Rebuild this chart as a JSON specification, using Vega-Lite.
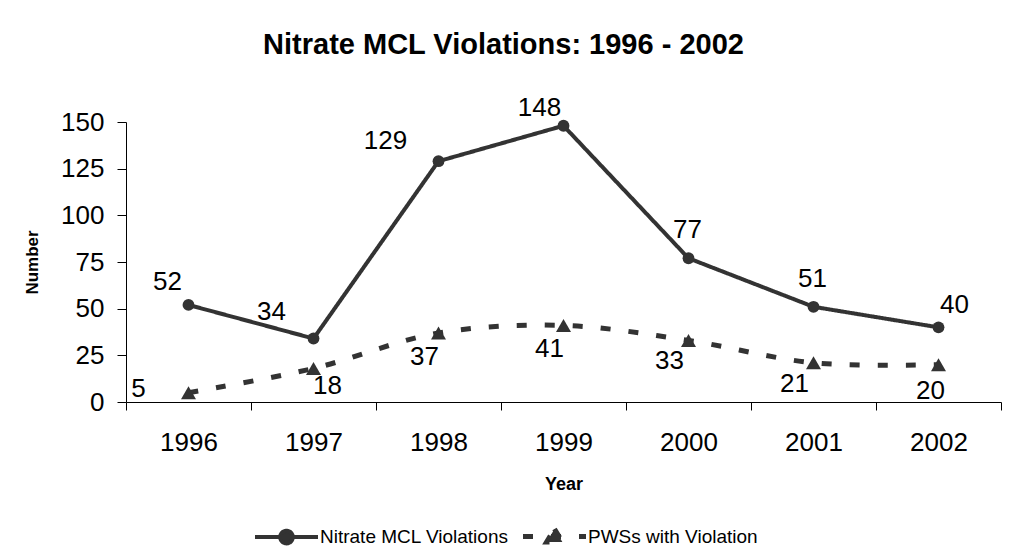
{
  "$schema": "https://vega.github.io/schema/vega-lite/v6.json",
  "width": 875,
  "height": 280,
  "autosize": "none",
  "padding": {"left": 126, "top": 122, "right": 14, "bottom": 158},
  "background": "white",
  "config": {
    "font": "Liberation Sans",
    "view": {"stroke": null},
    "text": {"font": "Liberation Sans", "fontSize": 26, "color": "#000000", "baseline": "alphabetic", "align": "center"}
  },
  "title": {
    "text": "Nitrate MCL Violations: 1996 - 2002",
    "font": "Liberation Sans",
    "fontSize": 29,
    "fontWeight": "bold",
    "color": "#000000",
    "anchor": "middle",
    "dx": -60,
    "offset": 35
  },
  "data": {
    "values": [
      {"year": "1996", "series": "Nitrate MCL Violations", "value": 52},
      {"year": "1997", "series": "Nitrate MCL Violations", "value": 34},
      {"year": "1998", "series": "Nitrate MCL Violations", "value": 129},
      {"year": "1999", "series": "Nitrate MCL Violations", "value": 148},
      {"year": "2000", "series": "Nitrate MCL Violations", "value": 77},
      {"year": "2001", "series": "Nitrate MCL Violations", "value": 51},
      {"year": "2002", "series": "Nitrate MCL Violations", "value": 40},
      {"year": "1996", "series": "PWSs with Violation", "value": 5},
      {"year": "1997", "series": "PWSs with Violation", "value": 18},
      {"year": "1998", "series": "PWSs with Violation", "value": 37},
      {"year": "1999", "series": "PWSs with Violation", "value": 41},
      {"year": "2000", "series": "PWSs with Violation", "value": 33},
      {"year": "2001", "series": "PWSs with Violation", "value": 21},
      {"year": "2002", "series": "PWSs with Violation", "value": 20}
    ]
  },
  "encoding": {
    "x": {
      "field": "year",
      "type": "ordinal",
      "bandPosition": 0.5,
      "scale": {"type": "band", "paddingInner": 0, "paddingOuter": 0},
      "axis": {
        "title": "Year",
        "titleFont": "Liberation Sans",
        "titleFontSize": 18,
        "titleFontWeight": "bold",
        "titleColor": "#000000",
        "titlePadding": 20,
        "labelFont": "Liberation Sans",
        "labelFontSize": 26,
        "labelColor": "#000000",
        "labelAngle": 0,
        "labelPadding": 19,
        "tickBand": "extent",
        "tickSize": 8,
        "tickColor": "#000000",
        "domainColor": "#000000",
        "grid": false
      }
    },
    "y": {
      "field": "value",
      "type": "quantitative",
      "scale": {"domain": [0, 150], "nice": false},
      "axis": {
        "title": "Number",
        "titleFont": "Liberation Sans",
        "titleFontSize": 17,
        "titleFontWeight": "bold",
        "titleColor": "#000000",
        "titlePadding": 19,
        "values": [0, 25, 50, 75, 100, 125, 150],
        "labelFont": "Liberation Sans",
        "labelFontSize": 26,
        "labelColor": "#000000",
        "labelPadding": 13,
        "tickSize": 9,
        "tickColor": "#000000",
        "domainColor": "#000000",
        "grid": false
      }
    }
  },
  "layer": [
    {
      "transform": [{"filter": "datum.series == 'PWSs with Violation'"}],
      "mark": {"type": "line", "interpolate": "catmull-rom", "strokeWidth": 5},
      "encoding": {
        "color": {"field": "series", "type": "nominal", "sort": ["Nitrate MCL Violations", "PWSs with Violation"], "scale": {"domain": ["Nitrate MCL Violations", "PWSs with Violation"], "range": ["#333333", "#333333"]},
          "legend": {
            "orient": "none",
            "direction": "horizontal",
            "legendX": 129,
            "legendY": 405,
            "title": null,
            "symbolSize": 3969,
            "symbolStrokeWidth": 4,
            "symbolOffset": 22,
            "labelFont": "Liberation Sans",
            "labelFontSize": 19,
            "labelColor": "#000000",
            "labelOffset": 24,
            "labelLimit": 0,
            "columnPadding": 4,
            "encode": {
              "symbols": {
                "update": {
                  "size": {"value": 3969},
                  "shape": {"signal": "datum.value == 'Nitrate MCL Violations' ? 'M-1,0L1,0M-0.2,0A0.2,0.2,0,1,0,0.2,0A0.2,0.2,0,1,0,-0.2,0Z' : 'M-1,0L1,0M0,-0.24L0.25,0.17L-0.25,0.17Z'"},
                  "fill": {"value": "#333333"},
                  "stroke": {"value": "#333333"},
                  "opacity": {"value": 1},
                  "strokeWidth": {"signal": "datum.value == 'Nitrate MCL Violations' ? 4 : 5"}
                }
              }
            }
          }
        },
        "strokeDash": {"field": "series", "type": "nominal", "scale": {"domain": ["Nitrate MCL Violations", "PWSs with Violation"], "range": [[1, 0], [10, 18]]}}
      }
    },
    {
      "transform": [{"filter": "datum.series == 'Nitrate MCL Violations'"}],
      "mark": {"type": "line", "strokeWidth": 4},
      "encoding": {
        "color": {"field": "series", "type": "nominal"},
        "strokeDash": {"field": "series", "type": "nominal"}
      }
    },
    {
      "transform": [{"filter": "datum.series == 'Nitrate MCL Violations'"}],
      "mark": {"type": "point", "shape": "circle", "filled": true, "size": 140, "color": "#333333", "opacity": 1}
    },
    {
      "transform": [{"filter": "datum.series == 'PWSs with Violation'"}],
      "mark": {"type": "point", "shape": "triangle-up", "filled": true, "size": 225, "color": "#333333", "opacity": 1}
    },
    {"transform": [{"filter": "datum.series == 'Nitrate MCL Violations' && datum.year == '1996'"}], "mark": {"type": "text", "dx": -21, "dy": -15}, "encoding": {"text": {"field": "value"}}},
    {"transform": [{"filter": "datum.series == 'Nitrate MCL Violations' && datum.year == '1997'"}], "mark": {"type": "text", "dx": -42, "dy": -19}, "encoding": {"text": {"field": "value"}}},
    {"transform": [{"filter": "datum.series == 'Nitrate MCL Violations' && datum.year == '1998'"}], "mark": {"type": "text", "dx": -53, "dy": -12}, "encoding": {"text": {"field": "value"}}},
    {"transform": [{"filter": "datum.series == 'Nitrate MCL Violations' && datum.year == '1999'"}], "mark": {"type": "text", "dx": -24, "dy": -10}, "encoding": {"text": {"field": "value"}}},
    {"transform": [{"filter": "datum.series == 'Nitrate MCL Violations' && (datum.year == '2000' || datum.year == '2001')"}], "mark": {"type": "text", "dx": -1, "dy": -20}, "encoding": {"text": {"field": "value"}}},
    {"transform": [{"filter": "datum.series == 'Nitrate MCL Violations' && datum.year == '2002'"}], "mark": {"type": "text", "dx": 16, "dy": -14}, "encoding": {"text": {"field": "value"}}},
    {"transform": [{"filter": "datum.series == 'PWSs with Violation' && datum.year == '1996'"}], "mark": {"type": "text", "dx": -50, "dy": 4}, "encoding": {"text": {"field": "value"}}},
    {"transform": [{"filter": "datum.series == 'PWSs with Violation' && datum.year == '1997'"}], "mark": {"type": "text", "dx": 14, "dy": 26}, "encoding": {"text": {"field": "value"}}},
    {"transform": [{"filter": "datum.series == 'PWSs with Violation' && (datum.year == '1998' || datum.year == '1999')"}], "mark": {"type": "text", "dx": -14, "dy": 32}, "encoding": {"text": {"field": "value"}}},
    {"transform": [{"filter": "datum.series == 'PWSs with Violation' && (datum.year == '2000' || datum.year == '2001')"}], "mark": {"type": "text", "dx": -19, "dy": 29}, "encoding": {"text": {"field": "value"}}},
    {"transform": [{"filter": "datum.series == 'PWSs with Violation' && datum.year == '2002'"}], "mark": {"type": "text", "dx": -8, "dy": 34}, "encoding": {"text": {"field": "value"}}}
  ]
}
